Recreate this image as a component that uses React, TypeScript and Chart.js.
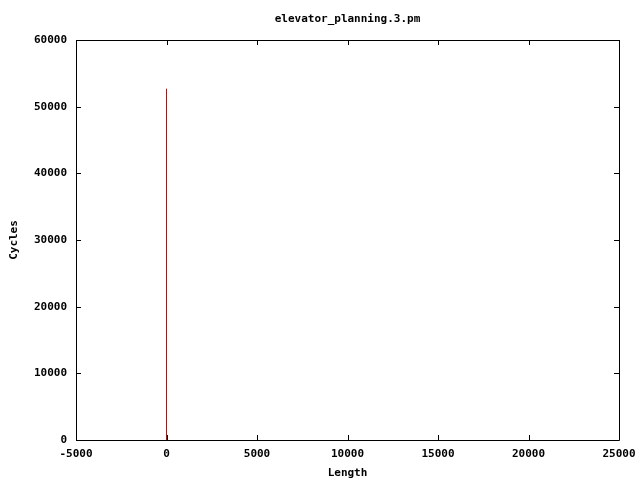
import React, { useEffect, useRef } from "react";
import { Chart, registerables } from "chart.js";

Chart.register(...registerables);

const titleText = "elevator_planning.3.pm";
const xLabel = "Length";
const yLabel = "Cycles";
const lengths = [0, 0];
const cycles = [0, 52700];
const xTicks = [-5000, 0, 5000, 10000, 15000, 20000, 25000];
const yTicks = [0, 10000, 20000, 30000, 40000, 50000, 60000];

const FONT = { family: "'DejaVu Sans Mono', monospace", size: 11, weight: "bold" as const };

const frameAndTicks = {
  id: "frameAndTicks",
  afterDatasetsDraw(chart: any) {
    const { ctx, chartArea: a, scales } = chart;
    const x = scales.x;
    const y = scales.y;
    const len = 5;
    ctx.save();
    ctx.strokeStyle = "#000";
    ctx.lineWidth = 1;
    ctx.beginPath();
    ctx.rect(Math.round(a.left) + 0.5, Math.round(a.top) + 0.5, Math.round(a.right - a.left), Math.round(a.bottom - a.top));
    for (const v of xTicks) {
      const px = Math.round(x.getPixelForValue(v)) + 0.5;
      ctx.moveTo(px, a.bottom);
      ctx.lineTo(px, a.bottom - len);
      ctx.moveTo(px, a.top);
      ctx.lineTo(px, a.top + len);
    }
    for (const v of yTicks) {
      const py = Math.round(y.getPixelForValue(v)) + 0.5;
      ctx.moveTo(a.left, py);
      ctx.lineTo(a.left + len, py);
      ctx.moveTo(a.right, py);
      ctx.lineTo(a.right - len, py);
    }
    ctx.stroke();
    ctx.restore();
  },
};

export default function App() {
  const ref = useRef<HTMLCanvasElement>(null);
  useEffect(() => {
    if (!ref.current) return;
    const chart = new Chart(ref.current, {
      type: "line",
      data: {
        datasets: [
          {
            data: lengths.map((l, i) => ({ x: l, y: cycles[i] })),
            borderColor: "#dd0000",
            backgroundColor: "#dd0000",
            borderWidth: 1,
            pointRadius: 0,
            fill: false,
            tension: 0,
          },
        ],
      },
      options: {
        animation: false,
        responsive: false,
        layout: { padding: { left: 0, right: 21, top: 0, bottom: 0 } },
        plugins: {
          legend: { display: false },
          tooltip: { enabled: false },
          title: {
            display: true,
            fullSize: false,
            text: titleText,
            color: "#000",
            font: FONT,
            padding: { top: 12.4, bottom: 14.4 },
          },
        },
        scales: {
          x: {
            type: "linear",
            min: -5000,
            max: 25000,
            afterBuildTicks: (s: any) => {
              s.ticks = xTicks.map((v) => ({ value: v }));
            },
            afterFit: (s: any) => {
              s.height = 40;
              s.paddingLeft = 0;
              s.paddingRight = 0;
            },
            grid: { display: false, drawTicks: false },
            border: { display: false },
            ticks: { color: "#000", font: FONT, padding: 8, maxRotation: 0, autoSkip: false, callback: (v: any) => String(v) },
            title: { display: true, text: xLabel, color: "#000", font: FONT, padding: { top: 0, bottom: 0.4 } },
          },
          y: {
            type: "linear",
            min: 0,
            max: 60000,
            afterBuildTicks: (s: any) => {
              s.ticks = yTicks.map((v) => ({ value: v }));
            },
            afterFit: (s: any) => {
              s.width = 76;
              s.paddingTop = 0;
              s.paddingBottom = 0;
            },
            grid: { display: false, drawTicks: false },
            border: { display: false },
            ticks: { color: "#000", font: FONT, padding: 9, autoSkip: false, callback: (v: any) => String(v) },
            title: { display: true, text: yLabel, color: "#000", font: FONT, padding: { top: 7.4, bottom: 0 } },
          },
        },
      },
      plugins: [frameAndTicks],
    });
    return () => chart.destroy();
  }, []);
  return (
    <div style={{ position: "fixed", left: 0, top: 0, width: 640, height: 480, background: "#fff" }}>
      <canvas ref={ref} width={640} height={480} style={{ width: 640, height: 480 }} />
    </div>
  );
}
